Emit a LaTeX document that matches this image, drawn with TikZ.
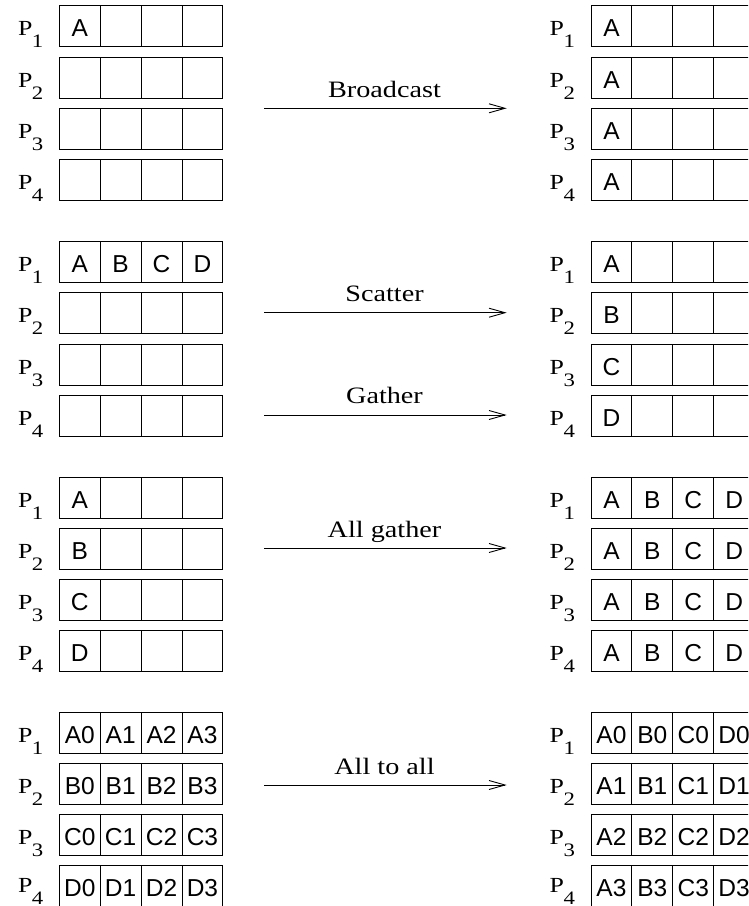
\documentclass[tikz,border=0pt]{standalone}
\usepackage{fontspec}
\setmainfont{Liberation Serif}
\newfontfamily\cellfont{Liberation Sans}
\usetikzlibrary{arrows.meta}
\newcommand{\hs}[1]{\scalebox{1.2}[1]{#1}}
\newcommand{\hp}[1]{\scalebox{1.2}[1]{#1}}
\newcommand{\Plab}[1]{\hp{P}\kern-0.5pt\raisebox{-12pt}{\fontsize{19}{19}\selectfont\hp{#1}}}
\tikzset{
  cellbox/.style={draw=black, line width=0.9pt, minimum width=40.9pt, minimum height=41pt,
    inner sep=0pt, outer sep=0pt, text height=21pt, text depth=0pt,
    font=\cellfont\fontsize{24.5}{25}\selectfont},
  plabel/.style={anchor=base west, inner sep=0pt, font=\fontsize{21.5}{21.5}\selectfont},
  oplabel/.style={anchor=base, inner sep=0pt, font=\fontsize{23.5}{24}\selectfont},
  oparrow/.style={line width=0.9pt, -{Straight Barb[length=16pt,width=9pt,line width=0.9pt]}},
}
% #1 name, #2 x of box, #3 top of box, #4 digit, #5-#8 cell contents, #9 label baseline offset
\newcommand{\procrow}[9]{%
  \node[plabel] (#1p) at (#2-41.5, #3+#9) {\Plab{#4}};
  \node[cellbox] (#1c1) at (#2+20.45, #3+20.5) {#5};
  \node[cellbox] (#1c2) at (#2+61.35, #3+20.5) {#6};
  \node[cellbox] (#1c3) at (#2+102.25, #3+20.5) {#7};
  \node[cellbox] (#1c4) at (#2+143.15, #3+20.5) {#8};
}
\begin{document}
\begin{tikzpicture}[x=1pt, y=-1pt]
\useasboundingbox (0,0) rectangle (748,906);
\clip (0,0) rectangle (748,906);
% ---------- Group 1: Broadcast ----------
\procrow{aLa}{59.3}{5.7}{1}{A}{}{}{}{30}
\procrow{aLb}{59.3}{57.0}{2}{}{}{}{}{30}
\procrow{aLc}{59.3}{108.3}{3}{}{}{}{}{30}
\procrow{aLd}{59.3}{159.6}{4}{}{}{}{}{30}
\procrow{aRa}{591}{5.7}{1}{A}{}{}{}{30}
\procrow{aRb}{591}{57.0}{2}{A}{}{}{}{30}
\procrow{aRc}{591}{108.3}{3}{A}{}{}{}{30}
\procrow{aRd}{591}{159.6}{4}{A}{}{}{}{30}
% ---------- Group 2: Scatter / Gather ----------
\procrow{bLa}{59.3}{241.5}{1}{A}{B}{C}{D}{30}
\procrow{bLb}{59.3}{292.8}{2}{}{}{}{}{30}
\procrow{bLc}{59.3}{344.1}{3}{}{}{}{}{30}
\procrow{bLd}{59.3}{395.4}{4}{}{}{}{}{30}
\procrow{bRa}{591}{241.5}{1}{A}{}{}{}{30}
\procrow{bRb}{591}{292.8}{2}{B}{}{}{}{30}
\procrow{bRc}{591}{344.1}{3}{C}{}{}{}{30}
\procrow{bRd}{591}{395.4}{4}{D}{}{}{}{30}
% ---------- Group 3: All gather ----------
\procrow{cLa}{59.3}{477}{1}{A}{}{}{}{30}
\procrow{cLb}{59.3}{528.3}{2}{B}{}{}{}{30}
\procrow{cLc}{59.3}{579.6}{3}{C}{}{}{}{30}
\procrow{cLd}{59.3}{630.9}{4}{D}{}{}{}{30}
\procrow{cRa}{591}{477}{1}{A}{B}{C}{D}{30}
\procrow{cRb}{591}{528.3}{2}{A}{B}{C}{D}{30}
\procrow{cRc}{591}{579.6}{3}{A}{B}{C}{D}{30}
\procrow{cRd}{591}{630.9}{4}{A}{B}{C}{D}{30}
% ---------- Group 4: All to all ----------
\procrow{dLa}{59.3}{712}{1}{A0}{A1}{A2}{A3}{30}
\procrow{dLb}{59.3}{763.3}{2}{B0}{B1}{B2}{B3}{30}
\procrow{dLc}{59.3}{814.6}{3}{C0}{C1}{C2}{C3}{30}
\procrow{dLd}{59.3}{865.9}{4}{D0}{D1}{D2}{D3}{26.5}
\procrow{dRa}{591}{712}{1}{A0}{B0}{C0}{D0}{30}
\procrow{dRb}{591}{763.3}{2}{A1}{B1}{C1}{D1}{30}
\procrow{dRc}{591}{814.6}{3}{A2}{B2}{C2}{D2}{30}
\procrow{dRd}{591}{865.9}{4}{A3}{B3}{C3}{D3}{26.5}
% ---------- Arrows ----------
\coordinate (bcs) at (264,108.3);  \coordinate (bce) at (506.7,108.3);
\coordinate (scs) at (264,312.7);  \coordinate (sce) at (506.7,312.7);
\coordinate (gas) at (264,415);    \coordinate (gae) at (506.7,415);
\coordinate (ags) at (264,548);    \coordinate (age) at (506.7,548);
\coordinate (aas) at (264,785);    \coordinate (aae) at (506.7,785);
\draw[oparrow] (bcs) -- (bce);
\draw[oparrow] (scs) -- (sce);
\draw[oparrow] (gas) -- (gae);
\draw[oparrow] (ags) -- (age);
\draw[oparrow] (aas) -- (aae);
\node[oplabel] (bclab) at (384.5,97) {\hs{Broadcast}};
\node[oplabel] (sclab) at (384.5,301.5) {\hs{Scatter}};
\node[oplabel] (galab) at (384.5,403.5) {\hs{Gather}};
\node[oplabel] (aglab) at (384.5,537) {\hs{All gather}};
\node[oplabel] (aalab) at (384.5,774) {\hs{All to all}};
\end{tikzpicture}
\end{document}
